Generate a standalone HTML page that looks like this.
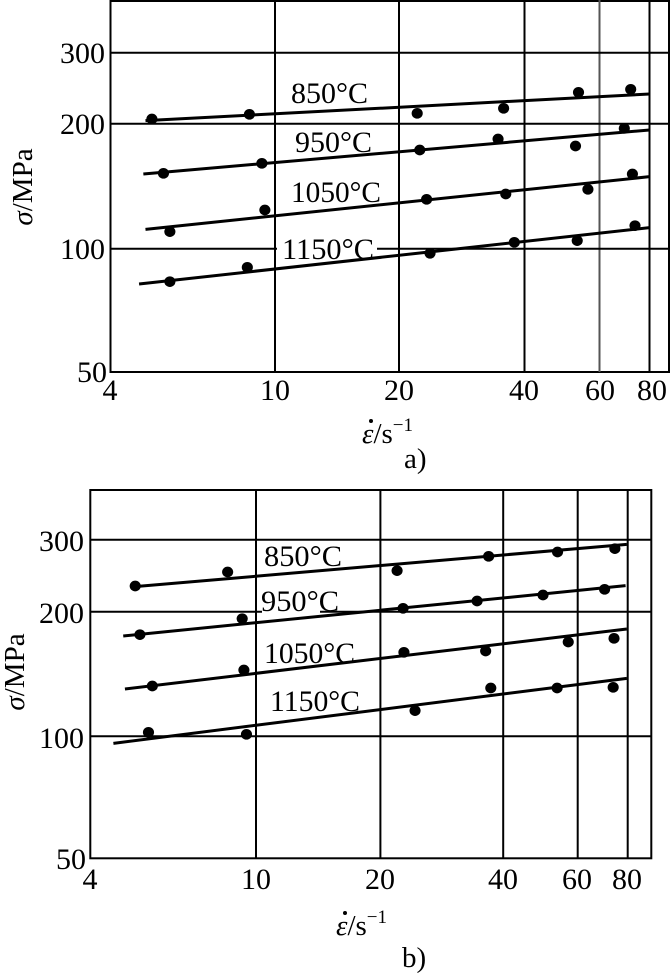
<!DOCTYPE html>
<html><head><meta charset="utf-8"><style>
html,body{margin:0;padding:0;background:#fff;}
svg{display:block;}
text{font-family:"Liberation Serif",serif;fill:#000;}
</style></head><body>
<svg width="671" height="973" viewBox="0 0 671 973" xmlns="http://www.w3.org/2000/svg">
<rect width="671" height="973" fill="#fff"/>
<!-- Plot a -->
<g stroke="#000" stroke-width="2" fill="none">
<rect x="110.5" y="1" width="558.5" height="371"/>
<line x1="275" y1="0" x2="275" y2="372"/>
<line x1="399" y1="0" x2="399" y2="372"/>
<line x1="524.5" y1="0" x2="524.5" y2="372"/>
<line x1="599.5" y1="0" x2="599.5" y2="372" stroke="#555"/>
<line x1="649.5" y1="0" x2="649.5" y2="372"/>
<line x1="110" y1="52.7" x2="669" y2="52.7"/>
<line x1="110" y1="123.7" x2="669" y2="123.7"/>
<line x1="110" y1="248.7" x2="669" y2="248.7"/>
</g>
<rect x="277" y="236" width="100" height="26" fill="#fff"/>
<g transform="scale(0.42789 0.33333)">
<g stroke="#000" stroke-width="3" fill="none">
<line x1="340" y1="362" x2="1518" y2="282" vector-effect="non-scaling-stroke"/>
<line x1="335" y1="522" x2="1518" y2="390" vector-effect="non-scaling-stroke"/>
<line x1="340" y1="688" x2="1518" y2="530" vector-effect="non-scaling-stroke"/>
<line x1="325" y1="852" x2="1518" y2="683" vector-effect="non-scaling-stroke"/>
</g>
<g fill="#000">
<ellipse cx="355" cy="357" rx="13" ry="16"/><ellipse cx="583" cy="343" rx="13" ry="16"/><ellipse cx="975" cy="340" rx="13" ry="16"/><ellipse cx="1177" cy="325" rx="13" ry="16"/><ellipse cx="1352" cy="277" rx="13" ry="16"/><ellipse cx="1474" cy="268" rx="13" ry="16"/>
<ellipse cx="382" cy="520" rx="13" ry="16"/><ellipse cx="612" cy="490" rx="13" ry="16"/><ellipse cx="981" cy="450" rx="13" ry="16"/><ellipse cx="1164" cy="417" rx="13" ry="16"/><ellipse cx="1345" cy="438" rx="13" ry="16"/><ellipse cx="1459" cy="385" rx="13" ry="16"/>
<ellipse cx="397" cy="695" rx="13" ry="16"/><ellipse cx="619" cy="630" rx="13" ry="16"/><ellipse cx="997" cy="598" rx="13" ry="16"/><ellipse cx="1182" cy="582" rx="13" ry="16"/><ellipse cx="1374" cy="568" rx="13" ry="16"/><ellipse cx="1478" cy="522" rx="13" ry="16"/>
<ellipse cx="397" cy="845" rx="13" ry="16"/><ellipse cx="578" cy="802" rx="13" ry="16"/><ellipse cx="1005" cy="760" rx="13" ry="16"/><ellipse cx="1202" cy="727" rx="13" ry="16"/><ellipse cx="1349" cy="722" rx="13" ry="16"/><ellipse cx="1484" cy="677" rx="13" ry="16"/>
</g>
</g>
<g font-size="30">
<text x="291" y="103" textLength="77" lengthAdjust="spacingAndGlyphs">850°C</text>
<text x="295" y="152" textLength="77" lengthAdjust="spacingAndGlyphs">950°C</text>
<text x="291" y="202" textLength="90" lengthAdjust="spacingAndGlyphs">1050°C</text>
<text x="282" y="259" textLength="92" lengthAdjust="spacingAndGlyphs">1150°C</text>
</g>
<g font-size="30" text-anchor="end">
<text x="105" y="63" textLength="45" lengthAdjust="spacingAndGlyphs">300</text><text x="105" y="134" textLength="45" lengthAdjust="spacingAndGlyphs">200</text><text x="105" y="259" textLength="45" lengthAdjust="spacingAndGlyphs">100</text><text x="107" y="382" textLength="30" lengthAdjust="spacingAndGlyphs">50</text>
</g>
<g font-size="30" text-anchor="middle">
<text x="110" y="400">4</text><text x="275" y="400">10</text><text x="399" y="400">20</text><text x="524" y="400">40</text><text x="600" y="400">60</text><text x="652" y="400">80</text>
</g>
<text x="32" y="187" font-size="29" text-anchor="middle" transform="rotate(-90 32 187)"><tspan font-style="italic">σ</tspan>/MPa</text>
<circle cx="371" cy="421" r="2" fill="#000"/>
<text x="362" y="443" font-size="29"><tspan font-style="italic">ε</tspan>/s<tspan font-size="19" dy="-12">−1</tspan></text>
<text x="404" y="468" font-size="29">a)</text>

<!-- Plot b -->
<g stroke="#000" stroke-width="2" fill="none">
<rect x="90.3" y="490" width="561" height="368.3"/>
<line x1="256" y1="490" x2="256" y2="858"/>
<line x1="380.4" y1="490" x2="380.4" y2="858"/>
<line x1="503.2" y1="490" x2="503.2" y2="858"/>
<line x1="577.7" y1="490" x2="577.7" y2="858"/>
<line x1="627.7" y1="490" x2="627.7" y2="858"/>
<line x1="90" y1="539.7" x2="651" y2="539.7"/>
<line x1="90" y1="611.7" x2="651" y2="611.7"/>
<line x1="90" y1="736.3" x2="651" y2="736.3"/>
</g>
<rect x="262" y="600" width="58" height="20" fill="#fff"/>
<g transform="translate(0 480) scale(0.42789 0.33333)">
<g stroke="#000" stroke-width="3" fill="none">
<line x1="315" y1="320" x2="1465" y2="193" vector-effect="non-scaling-stroke"/>
<line x1="288" y1="468" x2="1462" y2="317" vector-effect="non-scaling-stroke"/>
<line x1="292" y1="627" x2="1465" y2="447" vector-effect="non-scaling-stroke"/>
<line x1="265" y1="790" x2="1465" y2="595" vector-effect="non-scaling-stroke"/>
</g>
<g fill="#000">
<ellipse cx="316" cy="318" rx="13" ry="16"/><ellipse cx="532" cy="276" rx="13" ry="16"/><ellipse cx="928" cy="272" rx="13" ry="16"/><ellipse cx="1142" cy="229" rx="13" ry="16"/><ellipse cx="1303" cy="216" rx="13" ry="16"/><ellipse cx="1437" cy="206" rx="13" ry="16"/>
<ellipse cx="327" cy="464" rx="13" ry="16"/><ellipse cx="566" cy="416" rx="13" ry="16"/><ellipse cx="942" cy="385" rx="13" ry="16"/><ellipse cx="1115" cy="363" rx="13" ry="16"/><ellipse cx="1269" cy="345" rx="13" ry="16"/><ellipse cx="1413" cy="328" rx="13" ry="16"/>
<ellipse cx="356" cy="618" rx="13" ry="16"/><ellipse cx="570" cy="570" rx="13" ry="16"/><ellipse cx="944" cy="517" rx="13" ry="16"/><ellipse cx="1135" cy="513" rx="13" ry="16"/><ellipse cx="1328" cy="486" rx="13" ry="16"/><ellipse cx="1435" cy="475" rx="13" ry="16"/>
<ellipse cx="347" cy="757" rx="13" ry="16"/><ellipse cx="576" cy="763" rx="13" ry="16"/><ellipse cx="970" cy="692" rx="13" ry="16"/><ellipse cx="1147" cy="624" rx="13" ry="16"/><ellipse cx="1302" cy="624" rx="13" ry="16"/><ellipse cx="1433" cy="622" rx="13" ry="16"/>
</g>
</g>
<g font-size="30">
<text x="264" y="566" textLength="78" lengthAdjust="spacingAndGlyphs">850°C</text>
<text x="261" y="611" textLength="78" lengthAdjust="spacingAndGlyphs">950°C</text>
<text x="264" y="663" textLength="91" lengthAdjust="spacingAndGlyphs">1050°C</text>
<text x="270" y="711" textLength="90" lengthAdjust="spacingAndGlyphs">1150°C</text>
</g>
<g font-size="30" text-anchor="end">
<text x="84" y="551" textLength="45" lengthAdjust="spacingAndGlyphs">300</text><text x="84" y="623" textLength="45" lengthAdjust="spacingAndGlyphs">200</text><text x="84" y="748" textLength="45" lengthAdjust="spacingAndGlyphs">100</text><text x="86" y="869" textLength="30" lengthAdjust="spacingAndGlyphs">50</text>
</g>
<g font-size="30" text-anchor="middle">
<text x="90" y="889">4</text><text x="256" y="889">10</text><text x="380" y="889">20</text><text x="503" y="889">40</text><text x="577" y="889">60</text><text x="627" y="889">80</text>
</g>
<text x="24" y="672" font-size="29" text-anchor="middle" transform="rotate(-90 24 672)"><tspan font-style="italic">σ</tspan>/MPa</text>
<circle cx="345" cy="913" r="2" fill="#000"/>
<text x="336" y="935" font-size="29"><tspan font-style="italic">ε</tspan>/s<tspan font-size="19" dy="-12">−1</tspan></text>
<text x="402" y="967" font-size="29">b)</text>
</svg>
</body></html>
